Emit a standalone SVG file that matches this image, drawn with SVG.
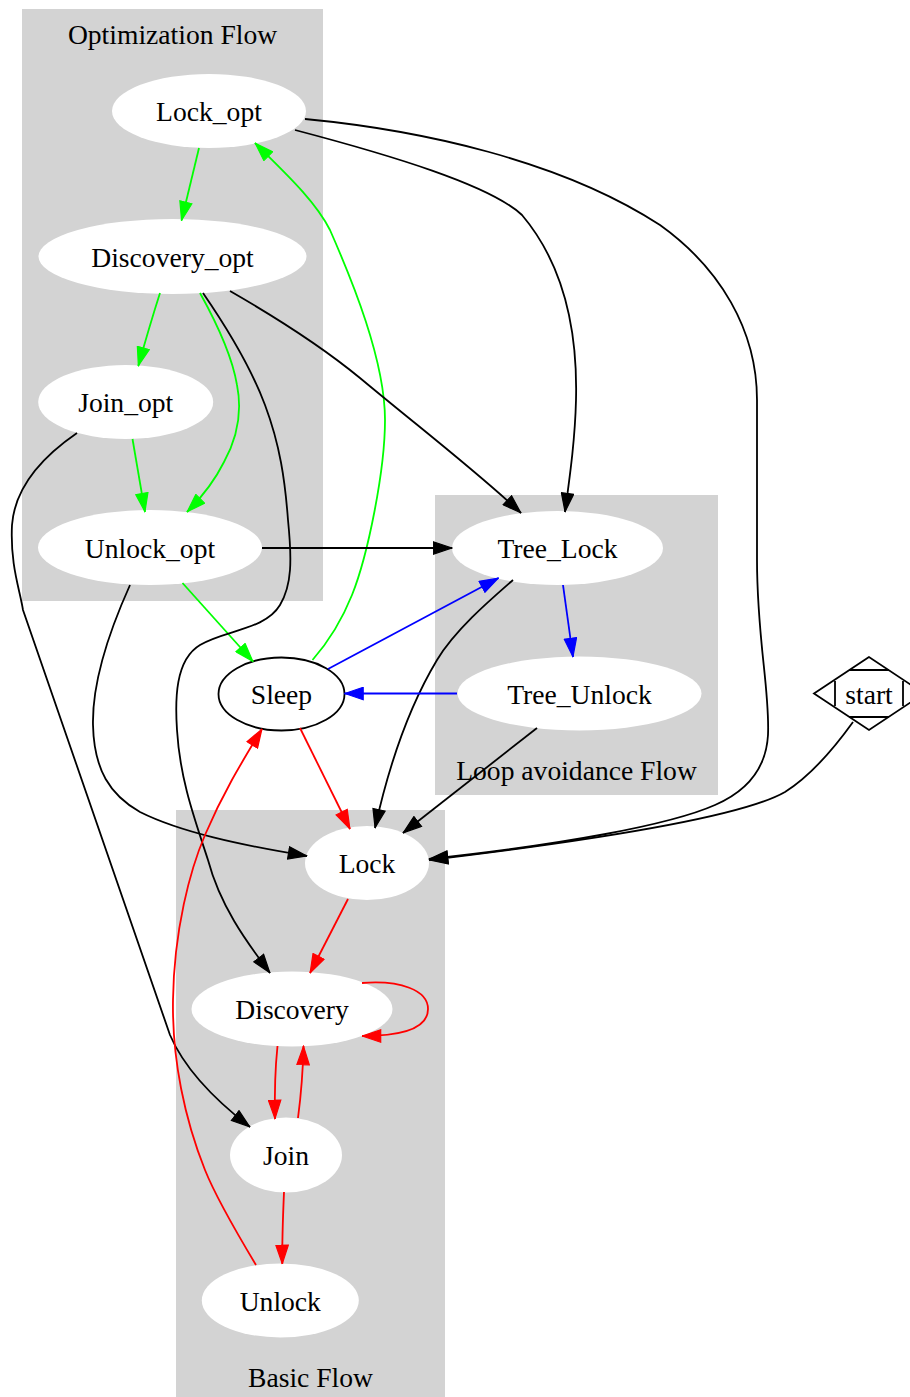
<svg xmlns="http://www.w3.org/2000/svg" width="910" height="1397" viewBox="0 0 910 1397">
  <style>
    text { font-family: "Liberation Serif", "Times New Roman", serif; font-size: 27.6px; fill: #000; text-anchor: middle; }
    .cluster { fill: #d3d3d3; stroke: none; }
    .node-fill { fill: #ffffff; stroke: none; }
    .node-line { fill: #ffffff; stroke: #000; stroke-width: 1.8; }
    .e { fill: none; stroke-width: 1.8; }
    .k { stroke: #000; marker-end: url(#ah-k); }
    .g { stroke: #00ff00; marker-end: url(#ah-g); }
    .b { stroke: #0000ff; marker-end: url(#ah-b); }
    .r { stroke: #ff0000; marker-end: url(#ah-r); }
  </style>
  <defs>
    <marker id="ah-k" markerUnits="userSpaceOnUse" viewBox="0 0 20 14" markerWidth="20" markerHeight="14" refX="19.5" refY="7" orient="auto">
      <path d="M0.8,0.8 L19.2,7 L0.8,13.2 Z" fill="#000" stroke="#000" stroke-width="1.2"/>
    </marker>
    <marker id="ah-g" markerUnits="userSpaceOnUse" viewBox="0 0 20 14" markerWidth="20" markerHeight="14" refX="19.5" refY="7" orient="auto">
      <path d="M0.8,0.8 L19.2,7 L0.8,13.2 Z" fill="#00ff00" stroke="#00ff00" stroke-width="1.2"/>
    </marker>
    <marker id="ah-b" markerUnits="userSpaceOnUse" viewBox="0 0 20 14" markerWidth="20" markerHeight="14" refX="19.5" refY="7" orient="auto">
      <path d="M0.8,0.8 L19.2,7 L0.8,13.2 Z" fill="#0000ff" stroke="#0000ff" stroke-width="1.2"/>
    </marker>
    <marker id="ah-r" markerUnits="userSpaceOnUse" viewBox="0 0 20 14" markerWidth="20" markerHeight="14" refX="19.5" refY="7" orient="auto">
      <path d="M0.8,0.8 L19.2,7 L0.8,13.2 Z" fill="#ff0000" stroke="#ff0000" stroke-width="1.2"/>
    </marker>
  </defs>

  <rect width="910" height="1397" fill="#ffffff"/>

  <!-- clusters -->
  <g id="cluster_opt">
    <rect class="cluster" x="22" y="9" width="301" height="592"/>
    <text x="172.5" y="43.5">Optimization Flow</text>
  </g>
  <g id="cluster_loop">
    <rect class="cluster" x="435" y="495" width="283" height="300"/>
    <text x="576.5" y="780">Loop avoidance Flow</text>
  </g>
  <g id="cluster_basic">
    <rect class="cluster" x="176" y="810" width="269" height="587"/>
    <text x="310.5" y="1386.5">Basic Flow</text>
  </g>

  <!-- nodes -->
  <g id="Lock_opt">
    <ellipse class="node-fill" cx="209" cy="111" rx="97" ry="37"/>
    <text x="209" y="121">Lock_opt</text>
  </g>
  <g id="Discovery_opt">
    <ellipse class="node-fill" cx="172.5" cy="256.5" rx="134" ry="37.5"/>
    <text x="172.5" y="266.5">Discovery_opt</text>
  </g>
  <g id="Join_opt">
    <ellipse class="node-fill" cx="125.7" cy="402" rx="87.5" ry="37"/>
    <text x="125.7" y="412">Join_opt</text>
  </g>
  <g id="Unlock_opt">
    <ellipse class="node-fill" cx="150" cy="547.5" rx="112" ry="37.5"/>
    <text x="150" y="557.5">Unlock_opt</text>
  </g>
  <g id="Tree_Lock">
    <ellipse class="node-fill" cx="557.5" cy="548" rx="105.5" ry="37"/>
    <text x="557.5" y="558">Tree_Lock</text>
  </g>
  <g id="Tree_Unlock">
    <ellipse class="node-fill" cx="579.5" cy="693.5" rx="122" ry="37"/>
    <text x="579.5" y="703.5">Tree_Unlock</text>
  </g>
  <g id="Sleep">
    <ellipse class="node-line" cx="281.5" cy="694" rx="63" ry="36.5"/>
    <text x="281.5" y="703.5">Sleep</text>
  </g>
  <g id="start">
    <polygon points="869,657 814,693.5 869,730 924,693.5" fill="#ffffff" stroke="#000" stroke-width="1.8"/>
    <path d="M849,670 L889,670 M835,681 L835,706 M849,717 L889,717 M903,681 L903,706" fill="none" stroke="#000" stroke-width="1.8"/>
    <text x="869" y="703.5">start</text>
  </g>
  <g id="Lock">
    <ellipse class="node-fill" cx="367" cy="863" rx="62" ry="37"/>
    <text x="367" y="873">Lock</text>
  </g>
  <g id="Discovery">
    <ellipse class="node-fill" cx="292" cy="1009" rx="100.5" ry="37.5"/>
    <text x="292" y="1019">Discovery</text>
  </g>
  <g id="Join">
    <ellipse class="node-fill" cx="286" cy="1155" rx="56" ry="37.5"/>
    <text x="286" y="1165">Join</text>
  </g>
  <g id="Unlock">
    <ellipse class="node-fill" cx="280.3" cy="1300.5" rx="78.5" ry="37"/>
    <text x="280.3" y="1310.5">Unlock</text>
  </g>

  <!-- connectors -->
  <g id="edges">
    <!-- optimization flow (green) -->
    <path class="e g" d="M199,148 L181.5,220.5"/>
    <path class="e g" d="M160,293 C152,318 145,342 138.3,366"/>
    <path class="e g" d="M200,293 C215,320 232,355 237,385 C243,415 236,440 224,462 C215,480 203,496 187,512"/>
    <path class="e g" d="M132.5,439 L145,512"/>
    <path class="e g" d="M182.5,583 L253,661.5"/>
    <path class="e g" d="M312.5,660 C330,640 342,620 352,595 C368,555 385,470 385,420 C385,360 352,280 330,230 C315,200 282,170 255,143"/>

    <!-- black edges -->
    <path class="e k" d="M295,130 C390,155 490,185 522,215 C560,260 578,320 576,400 C575,440 570,475 565,512"/>
    <path class="e k" d="M305,119 C420,130 560,160 660,225 C720,268 757,330 757,400 L757,560 C757,640 770,690 768,735 C766,770 745,792 715,805 C670,825 560,845 429,859"/>
    <path class="e k" d="M230,291 C270,314 320,345 360,378 C420,428 475,470 521,513"/>
    <path class="e k" d="M203,293 C225,325 250,365 265,405 C280,445 285,480 288,520 C292,560 292,585 280,605 C265,630 225,630 200,645 C175,660 175,700 177,730 C180,780 195,820 208,860 C220,905 245,940 270,973"/>
    <path class="e k" d="M262,548 L452,548"/>
    <path class="e k" d="M130,585 C112,625 92,680 93,725 C94,770 110,795 140,812 C180,832 240,845 307,856"/>
    <path class="e k" d="M77,433 C45,455 15,485 12,525 C10,565 20,590 23,610 L170,1035 C185,1070 215,1100 250,1127"/>
    <path class="e k" d="M513,580 C490,600 455,630 437,660 C410,705 390,760 375,828"/>
    <path class="e k" d="M537,728 L403,833"/>
    <path class="e k" d="M853,722 C835,747 812,775 785,792 C740,818 580,842 429,860"/>

    <!-- loop avoidance (blue) -->
    <path class="e b" d="M563,585 L573,657"/>
    <path class="e b" d="M457,693.5 L344.5,693.5"/>
    <path class="e b" d="M328,669 L498.5,578"/>

    <!-- basic flow (red) -->
    <path class="e r" d="M300,728 L350,829"/>
    <path class="e r" d="M348,899 L310,973"/>
    <path class="e r" d="M362,983 C400,980 428,990 428,1009 C428,1028 405,1036 362,1036"/>
    <path class="e r" d="M277.5,1046 C275,1070 274.5,1095 275,1119"/>
    <path class="e r" d="M298,1118 C301,1095 303,1070 303.5,1046"/>
    <path class="e r" d="M284,1192 C283,1215 282,1240 282.3,1264"/>
    <path class="e r" d="M256,1265 C235,1230 215,1195 205,1170 C185,1120 172,1060 173,1000 C174,930 190,870 205,835 C222,795 240,765 262,729"/>
  </g>
</svg>
